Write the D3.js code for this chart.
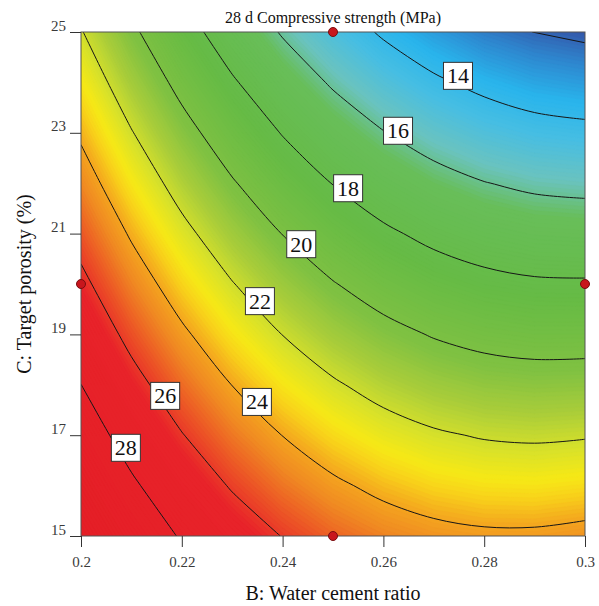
<!DOCTYPE html>
<html>
<head>
<meta charset="utf-8">
<script src="https://cdn.jsdelivr.net/npm/d3@7"></script>
<style>
body { margin: 0; background: #fff; }
text { font-family: 'Liberation Serif', 'Times New Roman', serif; }
</style>
</head>
<body>
<svg id="chart" width="599" height="606"></svg>
<script>
/*Data*/
var ratios = [0.20, 0.21, 0.22, 0.23, 0.24, 0.25, 0.26, 0.27, 0.28, 0.29, 0.30];
var porosity = [15, 16, 17, 18, 19, 20, 21, 22, 23, 24, 25];

// 28 d strength (MPa), one row per porosity (15 -> 25), columns follow ratios
var strength = [
  [30.48, 29.09, 27.87, 26.83, 25.96, 25.26, 24.74, 24.39, 24.21, 24.21, 24.38],
  [29.66, 28.23, 26.97, 25.88, 24.97, 24.23, 23.67, 23.27, 23.06, 23.01, 23.14],
  [28.84, 27.36, 26.06, 24.93, 23.98, 23.20, 22.59, 22.16, 21.90, 21.81, 21.90],
  [28.01, 26.49, 25.15, 23.98, 22.98, 22.16, 21.51, 21.04, 20.73, 20.61, 20.65],
  [27.17, 25.61, 24.23, 23.02, 21.98, 21.12, 20.43, 19.91, 19.57, 19.40, 19.40],
  [26.34, 24.73, 23.31, 22.06, 20.98, 20.07, 19.34, 18.78, 18.39, 18.18, 18.15],
  [25.49, 23.85, 22.38, 21.09, 19.97, 19.02, 18.24, 17.64, 17.22, 16.96, 16.88],
  [24.65, 22.96, 21.45, 20.12, 18.95, 17.96, 17.15, 16.51, 16.04, 15.74, 15.62],
  [23.80, 22.07, 20.52, 19.14, 17.93, 16.90, 16.05, 15.36, 14.85, 14.51, 14.35],
  [22.94, 21.17, 19.58, 18.16, 16.91, 15.84, 14.94, 14.21, 13.66, 13.24, 13.03],
  [22.08, 20.27, 18.64, 17.17, 15.88, 14.77, 13.83, 13.06, 12.40, 11.98, 11.72]
];

var levels = [12, 14, 16, 18, 20, 22, 24, 26, 28];
var labelLevels = [14, 16, 18, 20, 22, 24, 26, 28];
var labelRatio = [0.2748, 0.2629, 0.2530, 0.2437, 0.2355, 0.2349, 0.2167, 0.2089];
var labelPorosity = [24.13, 23.04, 21.90, 20.79, 19.66, 17.66, 17.78, 16.75];

var designRatio = [0.25, 0.20, 0.30, 0.25];
var designPorosity = [25, 20, 20, 15];

var xTicks = [0.2, 0.22, 0.24, 0.26, 0.28, 0.3];
var yTicks = [15, 17, 19, 21, 23, 25];

var serif = "'Liberation Serif', 'Times New Roman', serif";

/*Setup*/
var svg = d3.select('#chart'),
    margin = {top: 32, right: 14, bottom: 70, left: 81},
    width = +svg.attr('width') - margin.left - margin.right,
    height = +svg.attr('height') - margin.top - margin.bottom;

var x = d3.scaleLinear().domain([0.2, 0.3]).range([0, width]),
    y = d3.scaleLinear().domain([15, 25]).range([height, 0]);

var color = d3.scaleLinear()
    .domain([11.7, 12.6, 13.6, 14.6, 15.6, 16.5, 18.5, 20.3, 21.3, 22.2, 22.9, 23.3, 24.0, 24.6, 25.5, 26.4, 31])
    .range(['#3456a8', '#2e88d0', '#29b5ec', '#48bee2', '#6ac3bf', '#68be5a', '#66bb45', '#80c142',
            '#a9cd3a', '#d8e12a', '#f6e816', '#f8d51a', '#f4a41f', '#f08b22', '#ec5526', '#e8232a', '#e41e26']);

var g = svg.append('g')
    .attr('transform', 'translate(' + margin.left + ',' + margin.top + ')');

g.append('clipPath').attr('id', 'plot-clip')
  .append('rect').attr('width', width).attr('height', height);

/*Contours*/
var nx = ratios.length, ny = porosity.length;
var values = [];
strength.forEach(function(row) { values = values.concat(row); });

var dB = ratios[1] - ratios[0], dC = porosity[1] - porosity[0];
function gx(px) { return x(ratios[0] + (px - 0.5) * dB); }
function gy(py) { return y(porosity[0] + (py - 0.5) * dC); }

var gridPath = d3.geoPath(d3.geoTransform({
  point: function(px, py) { this.stream.point(gx(px), gy(py)); }
}));

// contour lines: keep only the ring points inside the sampled area, smooth them
var openLine = d3.line().curve(d3.curveCatmullRom.alpha(0.5));
function inside(p) {
  return p[0] >= 0.499 && p[0] <= nx - 0.499 && p[1] >= 0.499 && p[1] <= ny - 0.499;
}
function smoothPath(d) {
  var out = '';
  d.coordinates.forEach(function(poly) {
    poly.forEach(function(ring) {
      var pts = ring.slice(0, -1);
      // rotate so the ring starts on an outside point
      var start = pts.findIndex(function(p) { return !inside(p); });
      if (start > 0) pts = pts.slice(start).concat(pts.slice(0, start));
      var run = [];
      var flush = function() {
        if (run.length > 1) out += openLine(run);
        run = [];
      };
      pts.forEach(function(p) {
        if (!inside(p)) { flush(); return; }
        var q = [gx(p[0]), gy(p[1])];
        var last = run[run.length - 1];
        if (last && Math.hypot(q[0] - last[0], q[1] - last[1]) < 4) return;
        run.push(q);
      });
      flush();
    });
  });
  return out;
}

var bands = d3.contours().size([nx, ny]).thresholds(d3.range(11.0, 31.0, 0.1))(values);
var lines = d3.contours().size([nx, ny]).thresholds(levels)(values);

var plot = g.append('g').attr('clip-path', 'url(#plot-clip)');

plot.append('rect').attr('width', width).attr('height', height).attr('fill', color(11.7));

plot.selectAll('.band')
  .data(bands)
  .enter().append('path')
    .attr('class', 'band')
    .attr('d', gridPath)
    .attr('fill', function(d) { return color(d.value + 0.05); })
    .attr('stroke', function(d) { return color(d.value + 0.05); })
    .attr('stroke-width', 0.3);

plot.selectAll('.level')
  .data(lines)
  .enter().append('path')
    .attr('class', 'level')
    .attr('d', smoothPath)
    .attr('fill', 'none')
    .attr('stroke', '#161616')
    .attr('stroke-width', 1);

/*Frame*/
g.append('rect')
    .attr('width', width).attr('height', height)
    .attr('fill', 'none').attr('stroke', '#555').attr('stroke-width', 1);

/*Axes*/
var xAxis = g.append('g')
    .attr('transform', 'translate(0,' + height + ')')
    .call(d3.axisBottom(x).tickValues(xTicks).tickSize(11).tickFormat(function(d) { return String(d); }));

var yAxis = g.append('g')
    .call(d3.axisLeft(y).tickValues(yTicks).tickSize(11).tickFormat(function(d) { return String(d); }));

[xAxis, yAxis].forEach(function(a) {
  a.attr('font-family', serif);
  a.select('.domain').remove();
  a.selectAll('line').attr('stroke', '#333');
  a.selectAll('text')
    .attr('fill', '#3a3a3a')
    .attr('font-family', serif)
    .attr('font-size', 15);
});
xAxis.selectAll('text').attr('y', 31).attr('dy', 0);
yAxis.selectAll('text').attr('x', -15).attr('y', -2).attr('dy', 0);

/*Contour labels*/
var labels = g.selectAll('.clabel')
  .data(labelLevels)
  .enter().append('g')
    .attr('class', 'clabel')
    .attr('transform', function(d, i) {
      return 'translate(' + x(labelRatio[i]) + ',' + y(labelPorosity[i]) + ')';
    });

labels.append('rect')
    .attr('x', -14.5).attr('y', -13.5).attr('width', 29).attr('height', 27)
    .attr('fill', '#fff').attr('stroke', '#333').attr('stroke-width', 1);

labels.append('text')
    .attr('text-anchor', 'middle')
    .attr('y', 7.5)
    .attr('font-family', serif)
    .attr('font-size', 22)
    .attr('fill', '#111')
    .text(function(d) { return d; });

/*Design points*/
g.selectAll('.design')
  .data(designRatio)
  .enter().append('circle')
    .attr('class', 'design')
    .attr('cx', function(d) { return x(d); })
    .attr('cy', function(d, i) { return y(designPorosity[i]); })
    .attr('r', 4.5)
    .attr('fill', '#c8161d')
    .attr('stroke', '#7a0d10')
    .attr('stroke-width', 1);

/*Titles*/
svg.append('text')
    .attr('x', margin.left + width / 2).attr('y', 23)
    .attr('text-anchor', 'middle')
    .attr('font-family', serif).attr('font-size', 16).attr('fill', '#111')
    .text('28 d Compressive strength (MPa)');

svg.append('text')
    .attr('x', margin.left + width / 2).attr('y', 600)
    .attr('text-anchor', 'middle')
    .attr('font-family', serif).attr('font-size', 20).attr('fill', '#111')
    .text('B: Water cement ratio');

svg.append('text')
    .attr('transform', 'translate(31,' + (margin.top + height / 2) + ') rotate(-90)')
    .attr('text-anchor', 'middle')
    .attr('font-family', serif).attr('font-size', 20).attr('fill', '#111')
    .text('C: Target porosity (%)');
</script>
</body>
</html>
